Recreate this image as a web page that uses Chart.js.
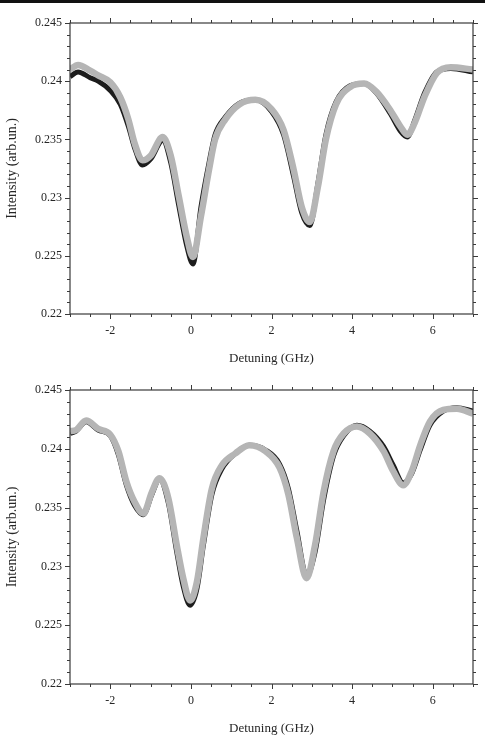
<!DOCTYPE html>
<html>
<head>
<meta charset="utf-8">
<script src="https://cdn.jsdelivr.net/npm/chart.js@4.4.1/dist/chart.umd.min.js"></script>
<style>
  html, body { margin: 0; padding: 0; background: #fff; }
  body { width: 485px; height: 739px; position: relative; overflow: hidden; }
  #rule { position: absolute; left: 0; top: 0; width: 485px; height: 3px; background: #111; }
  canvas { position: absolute; left: 0; }
  #topChart { top: 0; }
  #bottomChart { top: 370px; }
</style>
</head>
<body>
<div id="rule"></div>
<canvas id="topChart" width="485" height="370"></canvas>
<canvas id="bottomChart" width="485" height="369"></canvas>
<script>
// ---- data (detuning in GHz, intensity in arb. units) ----
const detuningTop = [-3, -2.8, -2.5, -2.3, -2.0, -1.75, -1.55, -1.4, -1.2, -1.0, -0.7, -0.5, -0.3, -0.1, 0.05,
  0.25, 0.45, 0.6, 0.85, 1.2, 1.6, 2.0, 2.3, 2.55, 2.75, 2.95, 3.15, 3.35, 3.6, 3.95, 4.3, 4.6, 4.95, 5.2, 5.37,
  5.55, 5.8, 6.1, 6.45, 7.0];
const fitTop = [0.2410, 0.2414, 0.2409, 0.2405, 0.2399, 0.2386, 0.2367, 0.2347, 0.2332, 0.2336, 0.2352, 0.2336,
  0.2301, 0.2266, 0.2249, 0.2284, 0.2324, 0.2350, 0.2367, 0.2380, 0.2384, 0.2376, 0.2358, 0.2324, 0.2292, 0.2279,
  0.2309, 0.2350, 0.2380, 0.2395, 0.2398, 0.2391, 0.2375, 0.2361, 0.2354, 0.2364, 0.2387, 0.2407, 0.2412, 0.2410];
const measuredTop = [0.2404, 0.2408, 0.2403, 0.2400, 0.2392, 0.2380, 0.2361, 0.2343, 0.2328, 0.2333, 0.2349, 0.2330,
  0.2293, 0.2258, 0.2243, 0.2292, 0.2330, 0.2354, 0.2369, 0.2381, 0.2384, 0.2374, 0.2354, 0.2318, 0.2287, 0.2276,
  0.2312, 0.2354, 0.2382, 0.2396, 0.2398, 0.2390, 0.2372, 0.2357, 0.2352, 0.2366, 0.2390, 0.2408, 0.2411, 0.2408];

const detuningBottom = [-3, -2.85, -2.6, -2.3, -2.0, -1.8, -1.6, -1.4, -1.18, -0.97, -0.78, -0.56, -0.35, -0.19,
  -0.02, 0.15, 0.31, 0.52, 0.77, 1.1, 1.45, 1.85, 2.2, 2.42, 2.63, 2.87, 3.08, 3.29, 3.54, 3.79, 4.12, 4.44, 4.78,
  5.02, 5.27, 5.48, 5.69, 5.93, 6.26, 6.6, 7.0];
const fitBottom = [0.2415, 0.2416, 0.2424, 0.2417, 0.2412, 0.2398, 0.2372, 0.2355, 0.2345, 0.2363, 0.2375, 0.2358,
  0.2318, 0.2290, 0.2271, 0.2287, 0.2324, 0.2366, 0.2386, 0.2396, 0.2403, 0.2398, 0.2384, 0.2361, 0.2324, 0.2290,
  0.2318, 0.2363, 0.2398, 0.2413, 0.2419, 0.2413, 0.2398, 0.2381, 0.2369, 0.2381, 0.2403, 0.2423, 0.2433, 0.2434,
  0.2430];
const measuredBottom = [0.2413, 0.2415, 0.2423, 0.2416, 0.2411, 0.2395, 0.2369, 0.2352, 0.2344, 0.2361, 0.2374,
  0.2354, 0.2312, 0.2283, 0.2267, 0.2281, 0.2318, 0.2361, 0.2383, 0.2396, 0.2403, 0.2399, 0.2387, 0.2366, 0.2330,
  0.2292, 0.2312, 0.2356, 0.2394, 0.2411, 0.2420, 0.2415, 0.2402, 0.2386, 0.2371, 0.2379, 0.2399, 0.2420, 0.2432,
  0.2435, 0.2432];

const xMin = -3, xMax = 7, yMin = 0.22, yMax = 0.245;

const SERIF = "'Liberation Serif', 'Times New Roman', serif";
const INK = '#262626';

// frame on all four sides, with outward minor/major ticks taken from the scales
const framePlugin = {
    id: 'frame',
    afterDraw(chart) {
        const ctx = chart.ctx;
        const { left, right, top, bottom } = chart.chartArea;
        const xs = chart.scales.x, ys = chart.scales.y;
        ctx.save();
        ctx.strokeStyle = '#3a3a3a';
        ctx.lineWidth = 1.2;
        ctx.strokeRect(left, top, right - left, bottom - top);
        ctx.lineWidth = 1;
        ctx.beginPath();
        xs.ticks.forEach(t => {
            const px = Math.round(xs.getPixelForValue(t.value)) + 0.5;
            const len = (t.label !== '') ? 5 : 3;
            ctx.moveTo(px, bottom); ctx.lineTo(px, bottom + len);
            ctx.moveTo(px, top); ctx.lineTo(px, top - len);
        });
        ys.ticks.forEach(t => {
            const py = Math.round(ys.getPixelForValue(t.value)) + 0.5;
            const len = (t.label !== '') ? 5 : 3;
            ctx.moveTo(left, py); ctx.lineTo(left - len, py);
            ctx.moveTo(right, py); ctx.lineTo(right + len, py);
        });
        ctx.stroke();
        ctx.restore();
    }
};

function toPoints(xs, ys) {
    return xs.map((x, i) => ({ x: x, y: ys[i] }));
}

function drawPanel(canvasId, detuning, fit, measured, layout) {
    const ctx = document.getElementById(canvasId).getContext('2d');
    new Chart(ctx, {
        type: 'line',
        data: {
            datasets: [
                {
                    label: 'Fit',
                    data: toPoints(detuning, fit),
                    borderColor: '#b5b5b5',
                    borderWidth: 6.5,
                    pointRadius: 0,
                    cubicInterpolationMode: 'monotone',
                    fill: false
                },
                {
                    label: 'Experiment',
                    data: toPoints(detuning, measured),
                    borderColor: '#1c1c1c',
                    borderWidth: 5,
                    pointRadius: 0,
                    cubicInterpolationMode: 'monotone',
                    fill: false
                }
            ]
        },
        options: {
            responsive: false,
            animation: false,
            events: [],
            layout: { padding: { top: layout.top, right: 12, left: 0, bottom: 0 } },
            plugins: { legend: { display: false }, tooltip: { enabled: false } },
            scales: {
                x: {
                    type: 'linear',
                    min: xMin,
                    max: xMax,
                    grid: { display: false, drawTicks: false },
                    border: { display: false },
                    afterFit: s => { s.height = layout.xHeight; },
                    ticks: {
                        stepSize: 0.5,
                        autoSkip: false,
                        maxRotation: 0,
                        padding: 10,
                        color: INK,
                        font: { family: SERIF, size: 12 },
                        callback: v => (Math.abs(v % 2) < 1e-9 && v > xMin) ? String(v) : ''
                    },
                    title: {
                        display: true,
                        text: 'Detuning (GHz)',
                        color: INK,
                        font: { family: SERIF, size: 13 },
                        padding: { top: 0, bottom: layout.titlePad }
                    }
                },
                y: {
                    type: 'linear',
                    min: yMin,
                    max: yMax,
                    grid: { display: false, drawTicks: false },
                    border: { display: false },
                    afterFit: s => { s.width = 70; },
                    ticks: {
                        stepSize: 0.001,
                        autoSkip: false,
                        padding: 8,
                        color: INK,
                        font: { family: SERIF, size: 12 },
                        callback: v => {
                            const m = Math.round(v * 1000);
                            return m % 5 === 0 ? String(m / 1000) : '';
                        }
                    },
                    title: {
                        display: true,
                        text: 'Intensity (arb.un.)',
                        color: INK,
                        font: { family: SERIF, size: 14 },
                        padding: { top: 4, bottom: 0 }
                    }
                }
            }
        },
        plugins: [framePlugin]
    });
}

drawPanel('topChart', detuningTop, fitTop, measuredTop, { top: 23, xHeight: 56, titlePad: 4 });
drawPanel('bottomChart', detuningBottom, fitBottom, measuredBottom, { top: 20, xHeight: 55, titlePad: 3 });
</script>
</body>
</html>
